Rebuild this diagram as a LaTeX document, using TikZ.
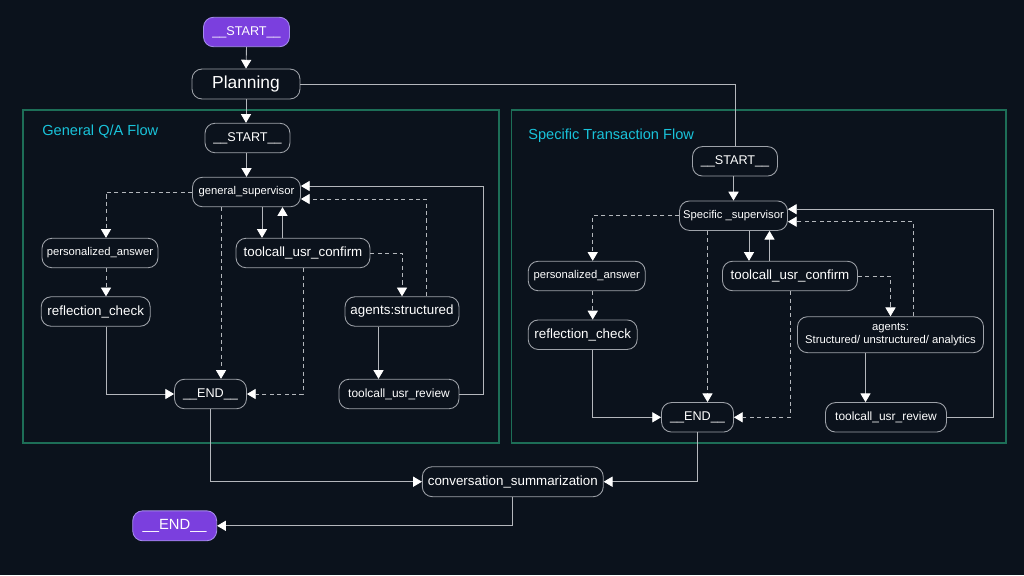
\documentclass[tikz,border=0pt]{standalone}
\usepackage{fontspec}
\setmainfont{Liberation Sans}
\usetikzlibrary{arrows.meta}

\definecolor{bgc}{HTML}{0B121C}
\definecolor{edgec}{HTML}{B4B7BC}
\definecolor{boxc}{HTML}{9EA2A9}
\definecolor{termc}{HTML}{7B3FDE}
\definecolor{termb}{HTML}{A58CEB}
\definecolor{flowc}{HTML}{1D6E57}
\definecolor{titlec}{HTML}{19C3DA}

\tikzset{
  state/.style={draw=boxc, fill=bgc, text=white, rounded corners=0.2cm,
    line width=0.5pt, inner sep=0pt, minimum height=0.59cm, align=center},
  term/.style={state, draw=termb, fill=termc},
  lg/.style={font=\fontsize{7.6}{9}\selectfont},
  md/.style={font=\fontsize{6.8}{8}\selectfont},
  sm/.style={font=\fontsize{6.4}{7.4}\selectfont},
  tm/.style={font=\fontsize{7.2}{9}\selectfont},
  line/.style={draw=edgec, line width=0.5pt},
  flow/.style={line, -{Triangle[width=5.8pt,length=5pt,color=white]}},
  dflow/.style={flow, dash pattern=on 2.3pt off 1.9pt},
  group/.style={draw=flowc, line width=0.6pt},
  title/.style={text=titlec, inner sep=0pt, anchor=west,
    font=\fontsize{8.3}{10}\selectfont},
}

\begin{document}
\begin{tikzpicture}[x=0.02cm, y=-0.02cm]
  \fill[bgc] (0,0) rectangle (1024,575);

  % the two sub flows
  \draw[group] (23,110) rectangle (499,443);
  \draw[group] (511.5,110) rectangle (1006,443);
  \node[title] (gtitle) at (42,132) {General Q/A Flow};
  \node[title] (stitle) at (528,136) {Specific Transaction Flow};

  \node[term, tm, minimum width=1.72cm] (start) at (246.5,32) {\_\_START\_\_};
  \node[state, font=\fontsize{9.9}{12}\selectfont, minimum width=2.16cm, minimum height=0.6cm] (plan) at (246,84) {Planning};

  % general q/a
  \node[state, tm, minimum width=1.7cm] (gstart) at (247.5,138) {\_\_START\_\_};
  \node[state, sm, minimum width=2.16cm] (gsup) at (246.5,192) {general\_supervisor};
  \node[state, sm, minimum width=2.32cm] (gpa) at (100,253) {personalized\_answer};
  \node[state, lg, minimum width=2.68cm] (gtuc) at (303,253) {toolcall\_usr\_confirm};
  \node[state, lg, minimum width=2.18cm] (grc) at (95.7,311.5) {reflection\_check};
  \node[state, lg, minimum width=2.28cm] (gag) at (402,311.5) {agents:structured};
  \node[state, tm, minimum width=1.44cm] (gend) at (210.5,394) {\_\_END\_\_};
  \node[state, md, minimum width=2.4cm] (gtur) at (399,394) {toolcall\_usr\_review};

  % specific transaction
  \node[state, tm, minimum width=1.7cm] (sstart) at (735,161.3) {\_\_START\_\_};
  \node[state, sm, minimum width=2.16cm] (ssup) at (733.5,215.7) {Specific \_supervisor};
  \node[state, sm, minimum width=2.34cm] (spa) at (586.7,276) {personalized\_answer};
  \node[state, lg, minimum width=2.7cm] (stuc) at (790,276) {toolcall\_usr\_confirm};
  \node[state, lg, minimum width=2.18cm] (src) at (582.7,334.7) {reflection\_check};
  \node[state, sm, minimum width=3.72cm, minimum height=0.72cm] (sag) at (890.5,334.7) {agents:\\Structured/ unstructured/ analytics};
  \node[state, tm, minimum width=1.44cm] (send) at (697.5,417.3) {\_\_END\_\_};
  \node[state, md, minimum width=2.42cm] (stur) at (886,417.3) {toolcall\_usr\_review};

  \node[state, lg, minimum width=3.62cm, minimum height=0.6cm] (summ) at (512.8,481.7) {conversation\_summarization};
  \node[term, font=\fontsize{8.4}{10}\selectfont, minimum width=1.68cm, minimum height=0.6cm] (fend) at (174.7,525.8) {\_\_END\_\_};

  \draw[flow] (start.south) -- (plan.north);
  \draw[flow] (plan.south) -- (plan.south |- gstart.north);
  \draw[line] (plan.east) -| (sstart.north);

  \draw[flow] (gsup.north |- gstart.south) -- (gsup.north);
  \draw[dflow] (gsup.west) -| ([xshift=0.12cm]gpa.north);
  \draw[dflow] ([xshift=0.12cm]gpa.south) -- ([xshift=0.12cm]gpa.south |- grc.north);
  \draw[flow] ([xshift=0.21cm]grc.south) |- (gend.west);
  \draw[flow] ([xshift=0.31cm]gsup.south) -- ([xshift=0.31cm]gsup.south |- gtuc.north);
  \draw[flow] ([xshift=-0.41cm]gtuc.north) -- ([xshift=-0.41cm]gtuc.north |- gsup.south);
  \draw[dflow] ([xshift=-0.51cm]gsup.south) -- ([xshift=-0.51cm]gsup.south |- gend.north);
  \draw[dflow] (gtuc.south) |- (gend.east);
  \draw[dflow] (gtuc.east) -| (gag.north);
  \draw[dflow] ([xshift=0.48cm]gag.north) |- ([yshift=-0.14cm]gsup.east);
  \draw[flow] ([xshift=-0.47cm]gag.south) -- ([xshift=-0.47cm]gag.south |- gtur.north);
  \draw[flow] (gtur.east) -- ++(24,0) |- ([yshift=0.12cm]gsup.east);

  \draw[flow] (ssup.north |- sstart.south) -- (ssup.north);
  \draw[dflow] (ssup.west) -| ([xshift=0.12cm]spa.north);
  \draw[dflow] ([xshift=0.12cm]spa.south) -- ([xshift=0.12cm]spa.south |- src.north);
  \draw[flow] ([xshift=0.2cm]src.south) |- (send.west);
  \draw[flow] ([xshift=0.31cm]ssup.south) -- ([xshift=0.31cm]ssup.south |- stuc.north);
  \draw[flow] ([xshift=-0.41cm]stuc.north) -- ([xshift=-0.41cm]stuc.north |- ssup.south);
  \draw[dflow] ([xshift=-0.52cm]ssup.south) -- ([xshift=-0.52cm]ssup.south |- send.north);
  \draw[dflow] (stuc.south) |- (send.east);
  \draw[dflow] (stuc.east) -| (sag.north);
  \draw[dflow] ([xshift=0.46cm]sag.north) |- ([yshift=-0.12cm]ssup.east);
  \draw[flow] ([xshift=-0.5cm]sag.south) -- ([xshift=-0.5cm]sag.south |- stur.north);
  \draw[flow] (stur.east) -- ++(46,0) |- ([yshift=0.13cm]ssup.east);

  \draw[flow] (gend.south) |- (summ.west);
  \draw[flow] (send.south) |- (summ.east);
  \draw[flow] (summ.south) |- (fend.east);
\end{tikzpicture}
\end{document}
